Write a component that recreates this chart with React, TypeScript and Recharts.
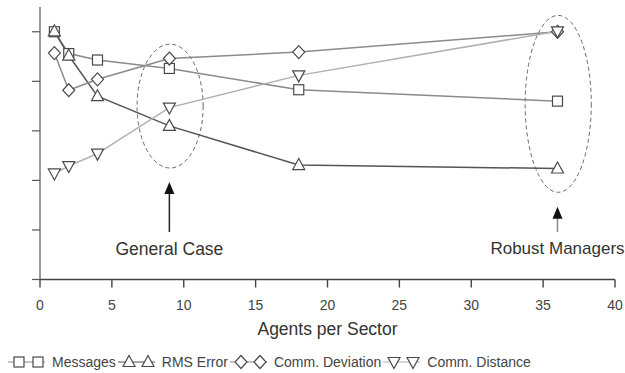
import React from 'react';
import {
  LineChart,
  Line,
  XAxis,
  YAxis,
  Legend,
  ReferenceArea,
  ReferenceLine,
  ReferenceDot,
} from 'recharts';

const agents = [1, 2, 4, 9, 18, 36];
const messages = [5.0, 4.56, 4.43, 4.26, 3.83, 3.6];
const rmsError = [5.01, 4.52, 3.7, 3.1, 2.31, 2.24];
const commDeviation = [4.57, 3.82, 4.04, 4.46, 4.59, 5.0];
const commDistance = [2.14, 2.29, 2.54, 3.47, 4.12, 5.01];

const xTicks = [0, 5, 10, 15, 20, 25, 30, 35, 40];
const yTicks = [0, 1, 2, 3, 4, 5];

// highlighted regions: [xMin, xMax, yMin, yMax]
const ellipses = [
  [6.75, 11.35, 2.25, 4.75],
  [33.75, 38.35, 1.76, 5.33],
];
// callouts: x, arrow base y, arrow tip y, label y, label text
const callouts = [
  { x: 9, base: 0.96, tip: 1.97, labelY: 0.62, text: 'General Case', color: '#222', size: 17.5 },
  { x: 36, base: 0.96, tip: 1.47, labelY: 0.62, text: 'Robust Managers', color: '#888', size: 17 },
];

const data = agents.map((a, i) => ({
  agents: a,
  messages: messages[i],
  rms: rmsError[i],
  deviation: commDeviation[i],
  distance: commDistance[i],
}));

const MARK = '#4a4a4a';
const FONT = '"Liberation Sans", Arial, Helvetica, sans-serif';

type Kind = 'square' | 'up' | 'diamond' | 'down';

function Marker({ kind, cx, cy }: { kind: Kind; cx: number; cy: number }) {
  const common = { fill: '#fff', stroke: MARK, strokeWidth: 1.2 };
  if (kind === 'square') return <rect x={cx - 5} y={cy - 5} width={10} height={10} {...common} />;
  if (kind === 'diamond')
    return <polygon points={`${cx},${cy - 6.5} ${cx + 6},${cy} ${cx},${cy + 6.5} ${cx - 6},${cy}`} {...common} />;
  if (kind === 'up')
    return <polygon points={`${cx},${cy - 6.5} ${cx + 6},${cy + 4.5} ${cx - 6},${cy + 4.5}`} {...common} />;
  return <polygon points={`${cx},${cy + 6.5} ${cx + 6},${cy - 4.5} ${cx - 6},${cy - 4.5}`} {...common} />;
}

const dotOf = (kind: Kind) => (props: any) => (
  <g key={`${kind}-${props.index}`}>
    <Marker kind={kind} cx={props.cx} cy={props.cy} />
  </g>
);

const series: { key: string; name: string; kind: Kind; color: string }[] = [
  { key: 'messages', name: 'Messages', kind: 'square', color: '#8a8a8a' },
  { key: 'rms', name: 'RMS Error', kind: 'up', color: '#555' },
  { key: 'deviation', name: 'Comm. Deviation', kind: 'diamond', color: '#8a8a8a' },
  { key: 'distance', name: 'Comm. Distance', kind: 'down', color: '#b0b0b0' },
];

function LegendContent() {
  return (
    <div style={{ display: 'flex', alignItems: 'center', height: 20, paddingLeft: 8, fontFamily: FONT }}>
      {series.map((s) => (
        <div key={s.key} style={{ display: 'flex', alignItems: 'center', marginRight: 2 }}>
          <svg width={37} height={16}>
            <line x1={0} y1={8} x2={37} y2={8} stroke={s.color} strokeWidth={1.2} />
            <Marker kind={s.kind} cx={11} cy={8} />
            <Marker kind={s.kind} cx={30} cy={8} />
          </svg>
          <span style={{ fontSize: 14, color: '#444', marginLeft: 7 }}>{s.name}</span>
        </div>
      ))}
    </div>
  );
}

export default function App() {
  return (
    <div style={{ position: 'absolute', left: 0, top: 0, fontFamily: FONT }}>
      <LineChart
        width={625}
        height={373}
        data={data}
        margin={{ top: 7, right: 10, bottom: 33.5, left: 0 }}
        style={{ fontFamily: FONT }}
      >
        <XAxis
          dataKey="agents"
          type="number"
          domain={[0, 40]}
          ticks={xTicks}
          height={60}
          tickSize={8}
          tickMargin={13}
          stroke="#444"
          strokeWidth={1.4}
          tick={{ fontSize: 14, fill: '#444' }}
          label={{
            value: 'Agents per Sector',
            position: 'insideBottom',
            offset: 5,
            fontSize: 17.5,
            fill: '#333',
          }}
        />
        <YAxis
          type="number"
          domain={[0, 5.5]}
          ticks={yTicks}
          width={40}
          tickSize={8}
          stroke="#555"
          strokeWidth={1.2}
          tickFormatter={() => ''}
        />
        {ellipses.map(([x1, x2, y1, y2], i) => (
          <ReferenceArea
            key={`ell-${i}`}
            x1={x1}
            x2={x2}
            y1={y1}
            y2={y2}
            shape={(p: any) => (
              <ellipse
                cx={p.x + p.width / 2}
                cy={p.y + p.height / 2}
                rx={Math.abs(p.width) / 2}
                ry={Math.abs(p.height) / 2}
                fill="none"
                stroke="#666"
                strokeWidth={1}
                strokeDasharray="4 3"
              />
            )}
          />
        ))}
        {series.map((s) => (
          <Line
            key={s.key}
            dataKey={s.key}
            name={s.name}
            stroke={s.color}
            strokeWidth={1.5}
            dot={dotOf(s.kind)}
            activeDot={false}
            isAnimationActive={false}
          />
        ))}
        {callouts.map((c, i) => (
          <ReferenceLine
            key={`shaft-${i}`}
            segment={[
              { x: c.x, y: c.base },
              { x: c.x, y: c.tip - 0.1 },
            ]}
            stroke={c.color}
            strokeWidth={1.5}
          />
        ))}
        {callouts.map((c, i) => (
          <ReferenceDot
            key={`head-${i}`}
            x={c.x}
            y={c.tip}
            shape={(p: any) => (
              <polygon
                points={`${p.cx},${p.cy} ${p.cx + 5},${p.cy + 12} ${p.cx - 5},${p.cy + 12}`}
                fill="#111"
              />
            )}
          />
        ))}
        {callouts.map((c, i) => (
          <ReferenceDot
            key={`label-${i}`}
            x={c.x}
            y={c.labelY}
            shape={(p: any) => (
              <text
                x={p.cx}
                y={p.cy}
                textAnchor="middle"
                dominantBaseline="central"
                fontSize={c.size}
                fill="#333"
                fontFamily={FONT}
              >
                {c.text}
              </text>
            )}
          />
        ))}
        <Legend
          layout="horizontal"
          verticalAlign="middle"
          align="center"
          wrapperStyle={{ left: 0, top: 352, width: 625 }}
          content={() => <LegendContent />}
        />
      </LineChart>
    </div>
  );
}
